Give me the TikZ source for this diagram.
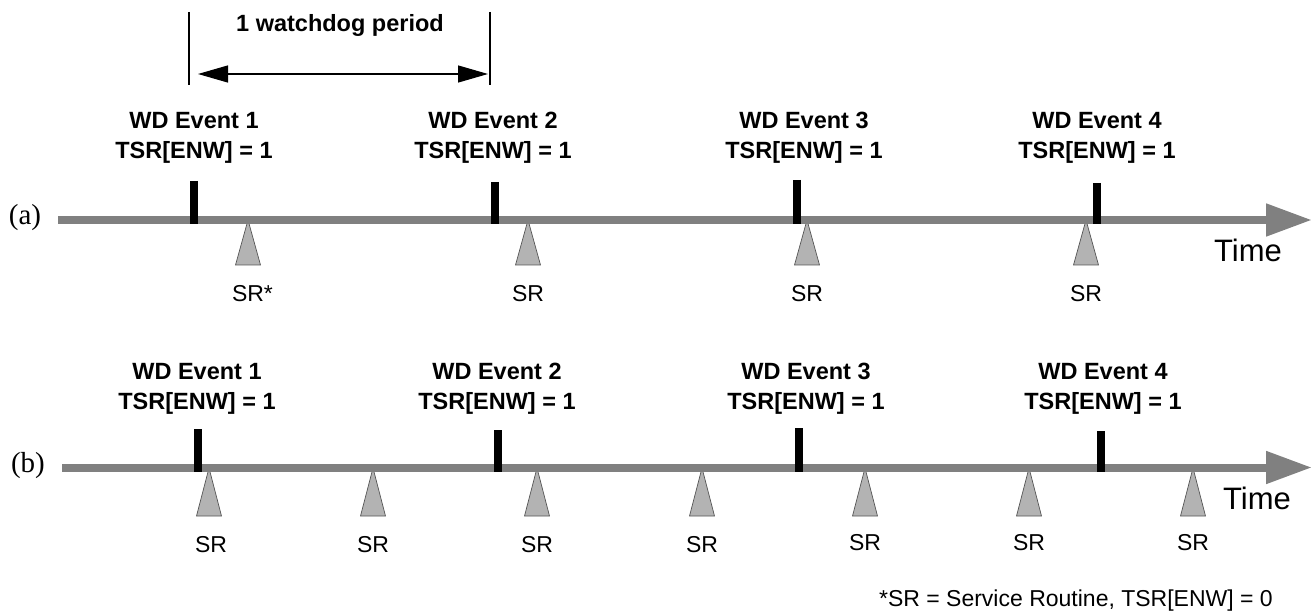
\documentclass[tikz,border=0pt]{standalone}
\usepackage{fontspec}
\setmainfont{Liberation Sans}
\newfontfamily\tagfont{Liberation Serif}
\usetikzlibrary{arrows.meta}

\definecolor{axisgray}{HTML}{808080}
\definecolor{srgray}{HTML}{B3B3B3}
\definecolor{srline}{HTML}{555555}

\tikzset{
  timeline/.style={line width=8pt, draw=axisgray, -{Triangle[length=46pt, width=31pt]}},
  wdtick/.style={line width=8pt, draw=black},
  srmark/.style={draw=srline, fill=srgray, line width=0.7pt, line join=miter},
  wdlabel/.style={font=\bfseries\fontsize{23.5}{30}\selectfont, align=center, inner sep=0pt},
  srlabel/.style={font=\fontsize{23}{27}\selectfont, inner sep=0pt},
  timelabel/.style={font=\fontsize{31}{36}\selectfont, inner sep=0pt},
  rowtag/.style={font=\tagfont\fontsize{29}{34}\selectfont, inner sep=0pt},
}

\begin{document}
\begin{tikzpicture}[x=1pt, y=-1pt]
\useasboundingbox (0,0) rectangle (1312,612);

% watchdog period
\coordinate (pl) at (189,12);
\coordinate (pr) at (490,12);
\draw[line width=1.2pt] (pl) -- ++(0,73);
\draw[line width=1.2pt] (pr) -- ++(0,73);
\coordinate (pa) at (198,74);
\coordinate (pb) at (488,74);
\draw[line width=1.2pt, {Triangle[length=30pt, width=17pt]}-{Triangle[length=30pt, width=17pt]}] (pa) -- (pb);
\node[wdlabel] (period) at (340,25) {1 watchdog period};

% row (a)
\node[rowtag] (taga) at (25,218) {(a)};
\node[wdlabel] (ea1) at (194,138) {WD Event 1\\TSR[ENW] = 1};
\node[wdlabel] (ea2) at (493,138) {WD Event 2\\TSR[ENW] = 1};
\node[wdlabel] (ea3) at (804,138) {WD Event 3\\TSR[ENW] = 1};
\node[wdlabel] (ea4) at (1097,138) {WD Event 4\\TSR[ENW] = 1};

\draw[srmark] (248,220) -- (235.5,265) -- (260.5,265) -- cycle;
\draw[srmark] (528,220) -- (515.5,265) -- (540.5,265) -- cycle;
\draw[srmark] (807,220) -- (794.5,265) -- (819.5,265) -- cycle;
\draw[srmark] (1086,220) -- (1073.5,265) -- (1098.5,265) -- cycle;

\coordinate (a0) at (58,220);
\coordinate (a1) at (1312,220);
\draw[timeline] (a0) -- (a1);

\draw[wdtick] (194,181) -- (194,224);
\draw[wdtick] (495,182) -- (495,224);
\draw[wdtick] (796.5,180) -- (796.5,224);
\draw[wdtick] (1097,183) -- (1097,224);

\node[srlabel] (sa1) at (248,294) {SR\rlap{*}};
\node[srlabel] (sa2) at (528,294) {SR};
\node[srlabel] (sa3) at (807,294) {SR};
\node[srlabel] (sa4) at (1086,294) {SR};
\node[timelabel] (timea) at (1248,250) {Time};

% row (b)
\node[rowtag] (tagb) at (28,466) {(b)};
\node[wdlabel] (eb1) at (197,389) {WD Event 1\\TSR[ENW] = 1};
\node[wdlabel] (eb2) at (497,389) {WD Event 2\\TSR[ENW] = 1};
\node[wdlabel] (eb3) at (806,389) {WD Event 3\\TSR[ENW] = 1};
\node[wdlabel] (eb4) at (1103,389) {WD Event 4\\TSR[ENW] = 1};

\draw[srmark] (209,468) -- (196.5,516) -- (221.5,516) -- cycle;
\draw[srmark] (373,468) -- (360.5,516) -- (385.5,516) -- cycle;
\draw[srmark] (537,468) -- (524.5,516) -- (549.5,516) -- cycle;
\draw[srmark] (702,468) -- (689.5,516) -- (714.5,516) -- cycle;
\draw[srmark] (865,468) -- (852.5,516) -- (877.5,516) -- cycle;
\draw[srmark] (1029,468) -- (1016.5,516) -- (1041.5,516) -- cycle;
\draw[srmark] (1193,468) -- (1180.5,516) -- (1205.5,516) -- cycle;

\coordinate (b0) at (62,467.5);
\coordinate (b1) at (1312,467.5);
\draw[timeline] (b0) -- (b1);

\draw[wdtick] (198,429) -- (198,471.5);
\draw[wdtick] (498,430) -- (498,471.5);
\draw[wdtick] (799,428) -- (799,471.5);
\draw[wdtick] (1100.5,431) -- (1100.5,471.5);

\node[srlabel] (sb1) at (211,545) {SR};
\node[srlabel] (sb2) at (373,545) {SR};
\node[srlabel] (sb3) at (537,545) {SR};
\node[srlabel] (sb4) at (702,545) {SR};
\node[srlabel] (sb5) at (865,543) {SR};
\node[srlabel] (sb6) at (1029,543) {SR};
\node[srlabel] (sb7) at (1193,543) {SR};
\node[timelabel] (timeb) at (1257,498) {Time};

% footnote
\node[srlabel, anchor=base east] (note) at (1273,606) {*SR = Service Routine, TSR[ENW] = 0};
\end{tikzpicture}
\end{document}
